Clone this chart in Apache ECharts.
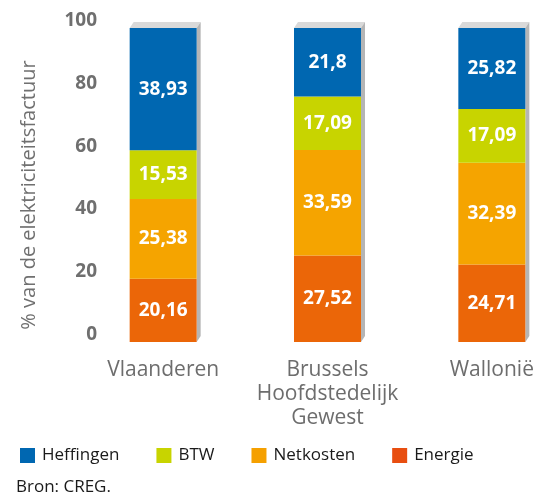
<!DOCTYPE html>
<html>
<head>
<meta charset="utf-8">
<script src="https://cdn.jsdelivr.net/npm/echarts@6/dist/echarts.min.js"></script>
<style>
html, body { margin: 0; padding: 0; background: #fff; }
#main { width: 543px; height: 496px; }
</style>
</head>
<body>
<div id="main"></div>
<script>
var regions = ['Vlaanderen', 'Brussels\nHoofdstedelijk\nGewest', 'Wallonië'];
var energie = [20.16, 27.52, 24.71];
var netkosten = [25.38, 33.59, 32.39];
var btw = [15.53, 17.09, 17.09];
var heffingen = [38.93, 21.8, 25.82];
var yTicks = [0, 20, 40, 60, 80, 100];

var totals = regions.map(function (r, i) {
    return energie[i] + netkosten[i] + btw[i] + heffingen[i];
});

var chart = echarts.init(document.getElementById('main'));

function seg(name, data, color) {
    return {
        name: name,
        type: 'bar',
        stack: 'tot',
        barWidth: 67,
        data: data,
        itemStyle: { color: color },
        label: {
            show: true,
            position: 'inside',
            color: '#fff',
            fontSize: 19,
            fontWeight: 'bold',
            fontFamily: 'Open Sans',
            formatter: function (p) { return String(p.value).replace('.', ','); }
        }
    };
}

chart.setOption({
    animation: false,
    textStyle: { fontFamily: 'Open Sans' },
    grid: { left: 81, top: 28, width: 493, height: 314, containLabel: false, outerBoundsMode: 'none' },
    legend: {
        left: 15,
        top: 442,
        itemWidth: 15,
        itemHeight: 15,
        itemGap: 37,
        icon: 'rect',
        textStyle: { fontSize: 17, color: '#1a1a1a', padding: [0, 0, 0, 2] },
        data: [
            { name: 'Heffingen', itemStyle: { color: '#0067b1' } },
            { name: 'BTW', itemStyle: { color: '#c8d400' } },
            { name: 'Netkosten', itemStyle: { color: '#f5a000' } },
            { name: 'Energie', itemStyle: { color: '#e84e10' } }
        ]
    },
    title: {
        text: 'Bron: CREG.',
        left: 16,
        top: 479,
        padding: 0,
        textStyle: { fontSize: 17, fontWeight: 'normal', color: '#1a1a1a' }
    },
    xAxis: {
        type: 'category',
        data: regions,
        axisLine: { show: false },
        axisTick: { show: false },
        axisLabel: { fontSize: 21, color: '#6d6d6d', margin: 16, lineHeight: 24, interval: 0 }
    },
    yAxis: {
        type: 'value',
        min: 0,
        max: 100,
        interval: 20,
        name: '% van de elektriciteitsfactuur',
        nameLocation: 'middle',
        nameGap: 42,
        nameTextStyle: { fontSize: 20, color: '#707070', padding: [0, 20, 0, 0] },
        splitLine: { show: false },
        axisLine: { show: false },
        axisTick: { show: false },
        axisLabel: {
            fontSize: 19,
            fontWeight: 'bold',
            color: '#6f6f6f',
            margin: -16,
            verticalAlign: 'bottom',
            lineHeight: 15,
            formatter: function (v) { return yTicks.indexOf(v) >= 0 ? String(v) : ''; }
        }
    },
    series: [
        {
            type: 'custom',
            silent: true,
            z: 1,
            data: totals.map(function (t, i) { return [i, t]; }),
            renderItem: function (params, api) {
                var top = api.coord([api.value(0), api.value(1)]);
                var bot = api.coord([api.value(0), 0]);
                var x0 = top[0] - 33.5, x1 = top[0] + 33.5;
                var yt = top[1], yb = bot[1];
                var d = 4, h = 6;
                return {
                    type: 'group',
                    children: [
                        {
                            type: 'polygon',
                            shape: { points: [[x0, yt], [x0 + d, yt - h], [x1 + d, yt - h], [x1, yt]] },
                            style: { fill: '#d9d9d9' }
                        },
                        {
                            type: 'polygon',
                            shape: { points: [[x1, yt], [x1 + d, yt - h], [x1 + d, yb - h], [x1, yb]] },
                            style: { fill: '#b5b5b5' }
                        }
                    ]
                };
            }
        },
        seg('Energie', energie, '#eb6608'),
        seg('Netkosten', netkosten, '#f5a400'),
        seg('BTW', btw, '#c8d400'),
        seg('Heffingen', heffingen, '#0067b1')
    ]
});
</script>
</body>
</html>
